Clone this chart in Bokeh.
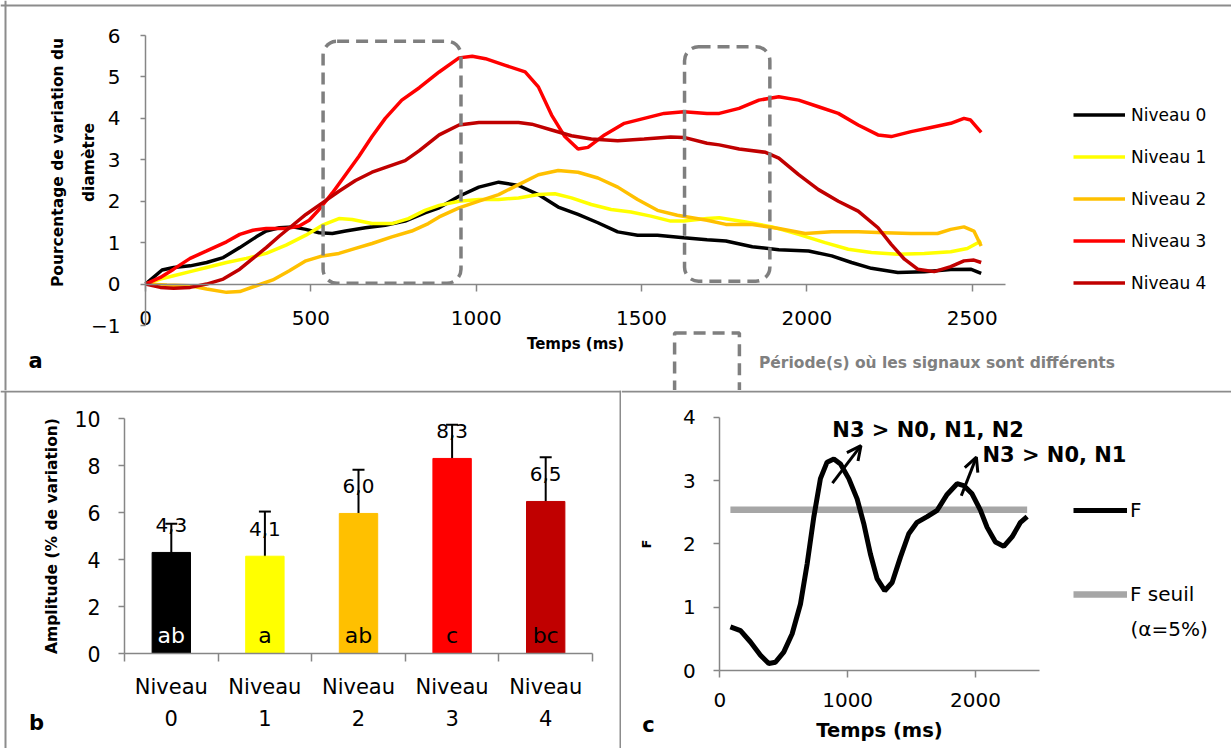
from bokeh.plotting import figure
from bokeh.models import (Legend, LegendItem, LinearAxis, FixedTicker, ColumnDataSource, Span,
                          LabelSet, Label, Whisker, TeeHead, Arrow, OpenHead, Range1d)
from bokeh.core.properties import value
from bokeh.layouts import column, row
from bokeh.embed import file_html
from bokeh.resources import INLINE
import math

FONT = "DejaVu Sans"
AXIS = "#868686"
BORDER = "#8c8c8c"

# ---------------- Panel a : time courses ----------------
series_names = ["Niveau 0", "Niveau 1", "Niveau 2", "Niveau 3", "Niveau 4"]
series_colors = ["#000000", "#FFFF00", "#FFC000", "#FF0000", "#C00000"]

t_n0 = [0, 50, 85, 135, 185, 235, 285, 335, 365, 405, 445, 485, 525, 565, 605, 665, 725, 785, 845, 888, 948,
        1008, 1068, 1128, 1188, 1248, 1308, 1368, 1428, 1488, 1548, 1628, 1698, 1755, 1835, 1915, 2005, 2075,
        2135, 2195, 2275, 2355, 2435, 2495, 2527]
v_n0 = [0, 0.34, 0.40, 0.44, 0.52, 0.64, 0.88, 1.14, 1.28, 1.36, 1.38, 1.32, 1.24, 1.22, 1.28, 1.36, 1.42, 1.52,
        1.72, 1.84, 2.12, 2.34, 2.46, 2.38, 2.16, 1.86, 1.68, 1.48, 1.26, 1.18, 1.18, 1.12, 1.07, 1.04, 0.90, 0.83,
        0.80, 0.68, 0.52, 0.38, 0.28, 0.30, 0.35, 0.36, 0.26]

t_n1 = [0, 45, 85, 135, 185, 245, 305, 365, 425, 485, 535, 585, 625, 685, 745, 795, 845, 888, 948, 1008, 1068,
        1128, 1188, 1238, 1288, 1348, 1408, 1468, 1528, 1588, 1628, 1698, 1735, 1815, 1895, 1975, 2055, 2125,
        2195, 2275, 2355, 2435, 2485, 2527]
v_n1 = [0, 0.12, 0.20, 0.30, 0.40, 0.52, 0.62, 0.74, 0.94, 1.18, 1.42, 1.58, 1.56, 1.46, 1.46, 1.58, 1.78, 1.90,
        2.00, 2.04, 2.04, 2.08, 2.16, 2.18, 2.08, 1.92, 1.80, 1.74, 1.64, 1.52, 1.52, 1.58, 1.60, 1.50, 1.38, 1.20,
        1.00, 0.84, 0.76, 0.72, 0.74, 0.78, 0.86, 1.04]

t_n2 = [0, 65, 135, 185, 245, 285, 335, 385, 435, 485, 535, 585, 635, 685, 745, 805, 855, 888, 948, 1008, 1068,
        1128, 1188, 1248, 1308, 1368, 1428, 1488, 1548, 1608, 1698, 1755, 1835, 1915, 1995, 2075, 2155, 2235,
        2315, 2395, 2435, 2475, 2505, 2527]
v_n2 = [0, -0.02, -0.04, -0.12, -0.20, -0.18, -0.04, 0.10, 0.32, 0.56, 0.68, 0.74, 0.86, 0.98, 1.14, 1.28, 1.46,
        1.62, 1.84, 2.00, 2.16, 2.40, 2.64, 2.74, 2.70, 2.56, 2.34, 2.04, 1.78, 1.66, 1.54, 1.44, 1.44, 1.34, 1.22,
        1.26, 1.26, 1.24, 1.22, 1.22, 1.32, 1.38, 1.28, 0.92]

t_n3 = [0, 45, 85, 135, 185, 245, 285, 325, 365, 425, 465, 495, 525, 565, 605, 645, 685, 725, 775, 828, 888, 948,
        988, 1028, 1088, 1148, 1188, 1228, 1268, 1308, 1338, 1388, 1448, 1508, 1568, 1628, 1698, 1735, 1795, 1855,
        1915, 1975, 2035, 2095, 2155, 2215, 2255, 2315, 2375, 2435, 2475, 2495, 2527]
v_n3 = [0, 0.16, 0.36, 0.62, 0.80, 1.02, 1.20, 1.30, 1.34, 1.34, 1.40, 1.54, 1.80, 2.20, 2.64, 3.08, 3.56, 4.00,
        4.44, 4.74, 5.12, 5.46, 5.50, 5.44, 5.28, 5.12, 4.76, 4.08, 3.56, 3.26, 3.30, 3.60, 3.88, 4.00, 4.12, 4.16,
        4.12, 4.12, 4.24, 4.44, 4.52, 4.44, 4.28, 4.12, 3.84, 3.60, 3.56, 3.68, 3.78, 3.88, 4.00, 3.96, 3.66]

t_n4 = [0, 45, 85, 135, 185, 235, 285, 325, 365, 405, 445, 485, 535, 585, 635, 685, 735, 785, 828, 888, 948, 1008,
        1128, 1168, 1228, 1288, 1348, 1428, 1508, 1588, 1628, 1698, 1735, 1795, 1875, 1915, 1975, 2035, 2095, 2155,
        2215, 2255, 2295, 2335, 2385, 2435, 2475, 2505, 2527]
v_n4 = [0, -0.08, -0.10, -0.08, 0.0, 0.12, 0.36, 0.62, 0.88, 1.16, 1.42, 1.68, 1.96, 2.24, 2.50, 2.70, 2.84, 2.98,
        3.22, 3.60, 3.84, 3.90, 3.90, 3.86, 3.72, 3.58, 3.50, 3.46, 3.50, 3.55, 3.54, 3.40, 3.36, 3.26, 3.18, 3.04,
        2.64, 2.28, 2.00, 1.76, 1.36, 0.96, 0.60, 0.36, 0.30, 0.42, 0.56, 0.58, 0.52]

series_t = [t_n0, t_n1, t_n2, t_n3, t_n4]
series_v = [v_n0, v_n1, v_n2, v_n3, v_n4]
time_ticks = [0, 500, 1000, 1500, 2000, 2500]
pct_ticks = [-1, 0, 1, 2, 3, 4, 5, 6]

period_start = [537, 1630]
period_end = [954, 1888]
period_top = [5.86, 5.73]
period_bottom = [0.02, 0.07]
period_label = "Période(s) où les signaux sont différents"

# ---------------- Panel b : amplitudes ----------------
amp_cats = ["Niveau\n0", "Niveau\n1", "Niveau\n2", "Niveau\n3", "Niveau\n4"]
amp_values = [4.30, 4.14, 5.96, 8.30, 6.47]
amp_sd = [1.22, 1.90, 1.86, 1.43, 1.88]
amp_letters = ["ab", "a", "ab", "c", "bc"]
amp_letter_colors = ["white", "black", "black", "black", "black"]
amp_ticks = [0, 2, 4, 6, 8, 10]

# ---------------- Panel c : F statistic ----------------
f_t = [83, 162, 240, 318, 383, 435, 500, 566, 631, 683, 735, 787, 839, 892, 944, 1009, 1074, 1126, 1178, 1230,
       1290, 1348, 1413, 1478, 1543, 1622, 1700, 1778, 1856, 1908, 1973, 2039, 2091, 2156, 2221, 2286, 2352, 2404]
f_v = [0.69, 0.63, 0.45, 0.24, 0.11, 0.13, 0.29, 0.58, 1.05, 1.68, 2.42, 3.03, 3.29, 3.34, 3.26, 3.03, 2.71, 2.32,
       1.84, 1.45, 1.26, 1.39, 1.79, 2.16, 2.34, 2.43, 2.53, 2.78, 2.95, 2.92, 2.79, 2.53, 2.26, 2.03, 1.96, 2.11,
       2.34, 2.43]
fseuil_t = [83, 2404]
fseuil_v = [2.54, 2.54]
f_xticks = [0, 1000, 2000]
f_yticks = [0, 1, 2, 3, 4]
annot_texts = ["N3 > N0, N1, N2", "N3 > N0, N1"]
annot_x = [880, 2054]
annot_y = [3.79, 3.40]
arrow_x0 = [881, 1889]
arrow_y0 = [2.96, 2.76]
arrow_x1 = [1104, 2007]
arrow_y1 = [3.55, 3.37]


class Frame:
    """Linear map between data values and canvas pixels (px from left, py from top)."""
    def __init__(self, w, h, xa, pxa, xb, pxb, ya, pya, yb, pyb):
        self.w, self.h = w, h
        self.kx = (pxb - pxa) / (xb - xa)
        self.x0 = xa - pxa / self.kx
        self.ky = (pyb - pya) / (yb - ya)
        self.y0 = ya - pya / self.ky

    def x(self, px):
        return self.x0 + px / self.kx

    def y(self, py):
        return self.y0 + py / self.ky

    def xr(self):
        return Range1d(self.x(0), self.x(self.w))

    def yr(self):
        return Range1d(self.y(self.h), self.y(0))


def make_fig(fr):
    p = figure(frame_width=fr.w, frame_height=fr.h, min_border=0, x_range=fr.xr(), y_range=fr.yr(),
               output_backend="svg", toolbar_location=None)
    p.grid.visible = False
    p.outline_line_color = None
    return p


def style_axis(ax, size):
    ax.axis_line_color = AXIS
    ax.axis_line_width = 1.5
    ax.major_tick_line_color = AXIS
    ax.major_tick_line_width = 1.5
    ax.minor_tick_line_color = None
    ax.major_label_text_font = FONT
    ax.major_label_text_font_size = size
    ax.major_label_text_color = "black"
    ax.axis_label_text_font = FONT
    ax.axis_label_text_font_style = "bold"
    ax.axis_label_text_color = "black"


def vborder(p, fr, px):
    p.add_layout(Span(location=fr.x(px), dimension="height", line_color=BORDER, line_width=2))


def hborder(p, fr, py):
    p.add_layout(Span(location=fr.y(py), dimension="width", line_color=BORDER, line_width=2))


# ======== figure a ========
fa = Frame(1231, 390, 0, 145, 2500, 971.75, 6, 35, -1, 325)
pa = make_fig(fa)
vborder(pa, fa, 5)
hborder(pa, fa, 5)

renderers = []
for t, v, c in zip(series_t, series_v, series_colors):
    renderers.append(pa.line(t, v, line_color=c, line_width=3.5))

boxes = pa.quad(left=period_start, right=period_end, top=period_top, bottom=period_bottom,
                fill_color=None, line_color="#7f7f7f", line_width=3.5, line_dash="12 7", border_radius=14)

ya = pa.yaxis[0]
style_axis(ya, "20px")
ya.fixed_location = 0
ya.bounds = (-1, 6)
ya.ticker = FixedTicker(ticks=pct_ticks)
ya.major_tick_out = 5
ya.major_tick_in = 0
ya.major_label_standoff = 20

pa.add_layout(Label(x=fa.x(73), y=fa.y(162), text="Pourcentage de variation du\ndiamètre", angle=math.pi / 2,
                    text_font=FONT, text_font_style="bold", text_font_size="15.5px", text_line_height=1.7,
                    text_align="center", text_baseline="middle", text_color="black"))

xa = pa.xaxis[0]
style_axis(xa, "20px")
xa.fixed_location = -1
xa.bounds = (0, 2600)
xa.ticker = FixedTicker(ticks=time_ticks)
xa.axis_line_color = None
xa.major_tick_line_color = None
xa.major_tick_out = 0
xa.major_tick_in = 0
xa.major_label_standoff = -15
xa.axis_label = "Temps (ms)"
xa.axis_label_text_font_size = "15px"
xa.axis_label_standoff = 7

zero_axis = LinearAxis(fixed_location=0, bounds=(0, 2600), ticker=FixedTicker(ticks=time_ticks))
style_axis(zero_axis, "20px")
zero_axis.major_label_overrides = {t: "" for t in time_ticks}
zero_axis.major_tick_out = 7
zero_axis.major_tick_in = 0
pa.add_layout(zero_axis, "below")

leg = Legend(items=[LegendItem(label=n, renderers=[r]) for n, r in zip(series_names, renderers)],
             location=(1073, 97), glyph_width=52, glyph_height=21, label_height=21, spacing=21,
             padding=0, margin=0, label_standoff=6, border_line_color=None, background_fill_alpha=0,
             label_text_font=FONT, label_text_font_size="17px", label_text_color="black")
pa.add_layout(leg)

pleg = Legend(items=[LegendItem(label=period_label, renderers=[boxes])], location=(666, -10),
              glyph_width=81, glyph_height=75, label_height=75, padding=0, margin=0, label_standoff=12,
              border_line_color=None, background_fill_alpha=0, label_text_font=FONT,
              label_text_font_size="15.5px", label_text_font_style="bold", label_text_color="#808080")
pa.add_layout(pleg)

pa.add_layout(Label(x=fa.x(35), y=fa.y(360), text="a", text_font=FONT, text_font_style="bold",
                    text_font_size="21px", text_align="center", text_baseline="middle", text_color="black"))

# ======== figure b ========
fb = Frame(621, 358, -0.5, 124, 4.5, 592, 10, 28, 0, 263)
pb = make_fig(fb)
vborder(pb, fb, 5)
vborder(pb, fb, 620)
hborder(pb, fb, 1)

xs = list(range(len(amp_values)))
src = ColumnDataSource(dict(
    x=xs, amp=amp_values, color=series_colors,
    upper=[a + s for a, s in zip(amp_values, amp_sd)],
    lower=[a - s for a, s in zip(amp_values, amp_sd)],
    lab=[f"{a:.1f}".replace(".", ",") for a in amp_values],
    zero=[0] * len(amp_values), letter=amp_letters, lcol=amp_letter_colors))
pb.vbar(x="x", top="amp", width=0.41, color="color", source=src)
pb.add_layout(Whisker(base="x", upper="upper", lower="lower", source=src, line_color="black", line_width=2,
                      upper_head=TeeHead(size=12, line_width=2, line_color="black"),
                      lower_head=TeeHead(size=12, line_width=2, line_color="black")))
pb.add_layout(LabelSet(x="x", y="amp", text="lab", source=src, y_offset=27, text_align="center",
                       text_baseline="middle", text_font=value(FONT), text_font_size=value("20px"),
                       text_color="black"))
pb.add_layout(LabelSet(x="x", y="zero", text="letter", source=src, y_offset=11, text_align="center",
                       text_baseline="alphabetic", text_font=value(FONT), text_font_size=value("22px"),
                       text_color="lcol"))

yb = pb.yaxis[0]
style_axis(yb, "20.5px")
yb.fixed_location = -0.5
yb.bounds = (0, 10)
yb.ticker = FixedTicker(ticks=amp_ticks)
yb.major_tick_out = 6
yb.major_tick_in = 0
yb.major_label_standoff = 18
yb.axis_label = "Amplitude (% de variation)"
yb.axis_label_text_font_size = "15.5px"
yb.axis_label_standoff = 10

xb = pb.xaxis[0]
style_axis(xb, "21px")
xb.fixed_location = 0
xb.bounds = (-0.5, 4.5)
xb.ticker = FixedTicker(ticks=xs, minor_ticks=[i - 0.5 for i in range(len(xs) + 1)])
xb.major_tick_out = 0
xb.major_tick_in = 0
xb.minor_tick_line_color = AXIS
xb.minor_tick_line_width = 1.5
xb.minor_tick_out = 8
xb.minor_tick_in = 0
xb.major_label_standoff = 13
xb.major_label_text_line_height = 1.34
xb.major_label_overrides = {i: c for i, c in zip(xs, amp_cats)}

pb.add_layout(Label(x=fb.x(36), y=fb.y(332), text="b", text_font=FONT, text_font_style="bold",
                    text_font_size="21px", text_align="center", text_baseline="middle", text_color="black"))

# ======== figure c ========
fc = Frame(610, 358, 0, 98.3, 2000, 354, 4, 26.7, 0, 280)
pc = make_fig(fc)
hborder(pc, fc, 1)

r_seuil = pc.line(fseuil_t, fseuil_v, line_color="#a6a6a6", line_width=6.5)
r_f = pc.line(f_t, f_v, line_color="black", line_width=5)

for tx, x, y in zip(annot_texts, annot_x, annot_y):
    pc.add_layout(Label(x=x, y=y, text=tx, text_font=FONT, text_font_style="bold", text_font_size="21px",
                        text_align="left", text_baseline="middle", text_color="black"))
for x0, y0, x1, y1 in zip(arrow_x0, arrow_y0, arrow_x1, arrow_y1):
    pc.add_layout(Arrow(x_start=x0, y_start=y0, x_end=x1, y_end=y1, line_width=3, line_color="black",
                        end=OpenHead(size=14, line_width=3, line_color="black")))

yc = pc.yaxis[0]
style_axis(yc, "20px")
yc.fixed_location = 0
yc.bounds = (0, 4)
yc.ticker = FixedTicker(ticks=f_yticks)
yc.major_tick_out = 6
yc.major_tick_in = 0
yc.major_label_standoff = 18
yc.axis_label = "F"
yc.axis_label_text_font_size = "13px"
yc.axis_label_standoff = 26

xc = pc.xaxis[0]
style_axis(xc, "20px")
xc.fixed_location = 0
xc.bounds = (0, 2500)
xc.ticker = FixedTicker(ticks=f_xticks)
xc.major_tick_out = 7
xc.major_tick_in = 0
xc.major_label_standoff = 15
xc.axis_label = "Temps (ms)"
xc.axis_label_text_font_size = "19.5px"
xc.axis_label_standoff = 9

legc = Legend(items=[LegendItem(label="F", renderers=[r_f]), LegendItem(label="F seuil", renderers=[r_seuil])],
              location=(452, 142), glyph_width=54, glyph_height=20, label_height=20, spacing=60,
              padding=0, margin=0, label_standoff=3, border_line_color=None, background_fill_alpha=0,
              label_text_font=FONT, label_text_font_size="20px", label_text_color="black")
pc.add_layout(legc)
pc.add_layout(Label(x=fc.x(509), y=fc.y(238), text="(α=5%)", text_font=FONT, text_font_size="20px",
                    text_align="left", text_baseline="middle", text_color="black"))
pc.add_layout(Label(x=fc.x(27), y=fc.y(334), text="c", text_font=FONT, text_font_style="bold",
                    text_font_size="21px", text_align="center", text_baseline="middle", text_color="black"))

layout = column(pa, row(pb, pc, spacing=0), spacing=0)
open("out.html", "w").write(file_html(layout, INLINE))
